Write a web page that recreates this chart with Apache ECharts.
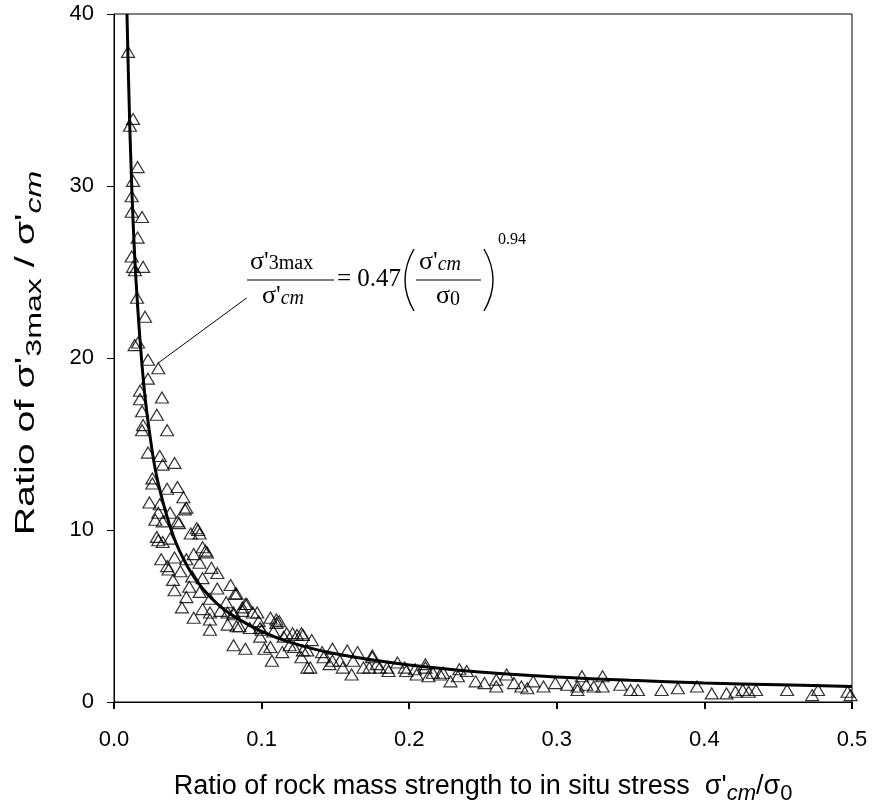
<!DOCTYPE html>
<html>
<head>
<meta charset="utf-8">
<script src="https://cdn.jsdelivr.net/npm/echarts@6/dist/echarts.min.js"></script>
<style>html,body{margin:0;padding:0;background:#fff;}#c{width:873px;height:808px;}</style>
</head>
<body>
<div id="c"></div>
<script>
// ---- data ----
var xTicks = [0, 0.1, 0.2, 0.3, 0.4, 0.5];
var yTicks = [0, 10, 20, 30, 40];

// fitted curve, points
var curvePoints = [
  [0.0088, 40.0], [0.010, 35.7], [0.012, 30.0], [0.015, 24.4], [0.020, 18.6],
  [0.025, 15.1], [0.030, 12.7], [0.040, 9.7], [0.050, 7.85], [0.060, 6.6],
  [0.070, 5.7], [0.080, 5.05], [0.100, 4.1], [0.120, 3.45], [0.150, 2.8],
  [0.200, 2.15], [0.250, 1.73], [0.300, 1.46], [0.350, 1.26], [0.400, 1.11],
  [0.450, 1.0], [0.500, 0.9]
];

// observed data (triangles)
var triPoints = [
  [0.0095,37.8],[0.0108,33.5],[0.0129,33.9],[0.016,31.1],[0.0129,30.3],[0.012,29.4],
  [0.012,28.5],[0.019,28.2],[0.016,27.0],[0.012,25.9],[0.0129,25.3],[0.0197,25.3],
  [0.0142,25.1],[0.0156,23.5],[0.021,22.4],[0.0163,20.9],[0.014,20.75],[0.023,19.9],
  [0.030,19.4],[0.023,18.8],[0.0176,18.1],[0.0325,17.7],[0.0176,17.6],[0.019,16.9],
  [0.029,16.7],[0.0197,16.1],[0.036,15.8],[0.019,15.8],[0.023,14.5],[0.031,14.3],
  [0.041,13.9],[0.033,13.8],[0.026,13.0],[0.043,12.5],[0.036,12.4],[0.047,11.9],
  [0.024,11.6],[0.031,11.5],[0.049,11.3],[0.038,11.0],[0.028,10.6],[0.033,10.5],
  [0.043,10.5],[0.056,10.1],[0.052,9.8],[0.029,9.6],[0.038,9.5],[0.060,9.0],
  [0.026,12.7],[0.048,11.2],[0.030,11.0],[0.044,10.4],[0.057,10.0],[0.058,9.8],
  [0.030,9.4],[0.033,9.3],[0.063,8.7],[0.032,8.3],[0.041,8.4],[0.049,8.3],
  [0.058,8.1],[0.066,7.8],[0.037,7.7],[0.045,7.6],[0.070,7.5],[0.053,7.3],
  [0.060,7.2],[0.040,7.1],[0.079,6.8],[0.051,6.7],[0.070,6.6],[0.041,6.5],
  [0.058,6.4],[0.083,6.3],[0.049,6.1],[0.065,6.0],[0.076,5.8],[0.089,5.7],
  [0.046,5.5],[0.060,5.4],[0.072,5.3],[0.094,5.2],[0.054,4.9],[0.081,5.2],
  [0.106,4.9],[0.065,4.8],[0.110,4.8],[0.062,8.8],[0.054,8.6],[0.036,7.9],
  [0.065,5.2],[0.077,5.2],[0.087,5.3],[0.097,5.2],[0.065,4.2],[0.077,4.5],
  [0.085,4.4],[0.099,4.3],[0.110,4.6],[0.117,4.0],[0.124,3.9],[0.081,3.3],
  [0.089,3.1],[0.099,3.8],[0.106,3.2],[0.107,2.4],[0.119,3.3],[0.128,3.0],
  [0.131,2.0],[0.082,6.3],[0.090,5.7],[0.087,5.5],[0.081,5.1],[0.098,4.7],
  [0.112,4.7],[0.083,4.4],[0.092,4.3],[0.100,4.2],[0.108,4.1],[0.121,4.0],
  [0.127,4.0],[0.115,3.8],[0.134,3.6],[0.102,3.1],[0.114,2.9],[0.122,3.2],
  [0.141,2.9],[0.148,3.1],[0.158,3.0],[0.165,2.9],[0.175,2.7],[0.127,2.6],
  [0.142,2.6],[0.153,2.4],[0.162,2.4],[0.133,2.0],[0.146,2.2],[0.161,1.6],
  [0.169,2.0],[0.178,2.2],[0.185,2.0],[0.192,2.3],[0.197,2.0],[0.204,1.9],
  [0.211,2.2],[0.216,1.7],[0.223,1.7],[0.228,1.2],[0.234,1.9],[0.128,3.9],
  [0.131,3.0],[0.148,2.4],[0.155,2.0],[0.175,2.6],[0.173,2.0],[0.180,2.0],
  [0.186,1.8],[0.198,1.8],[0.205,1.6],[0.211,2.0],[0.213,1.5],[0.221,1.6],
  [0.233,1.5],[0.239,1.8],[0.245,1.2],[0.251,1.1],[0.259,1.3],[0.266,1.6],
  [0.271,1.1],[0.276,0.9],[0.284,1.2],[0.291,0.9],[0.299,1.1],[0.307,1.0],
  [0.314,0.7],[0.259,0.9],[0.280,0.8],[0.314,0.9],[0.317,1.5],[0.320,1.0],
  [0.325,0.9],[0.331,1.5],[0.331,0.9],[0.343,1.0],[0.350,0.7],[0.355,0.7],
  [0.371,0.7],[0.382,0.8],[0.395,0.9],[0.405,0.5],[0.415,0.5],[0.421,0.6],
  [0.426,0.7],[0.430,0.6],[0.435,0.7],[0.456,0.7],[0.473,0.4],[0.477,0.7],
  [0.497,0.6],[0.499,0.4]
];

// leader line of the equation label (data coordinates)
var leaderFrom = [0.090, 23.5];
var leaderTo = [0.0298, 19.7];

var chart = echarts.init(document.getElementById('c'), null, {renderer: 'canvas'});
var sans = 'Liberation Sans, Arial, sans-serif';
var serif = 'Liberation Serif, Times New Roman, serif';

var option = {
  animation: false,
  backgroundColor: '#fff',
  grid: {left: 114, right: 21, top: 14, bottom: 106, containLabel: false, outerBoundsMode: 'none',
    show: true, borderColor: '#000', borderWidth: 1},
  xAxis: {
    type: 'value', min: xTicks[0], max: xTicks[xTicks.length - 1], interval: 0.1,
    axisLine: {show: true, lineStyle: {color: '#000', width: 1}},
    axisTick: {show: true, inside: false, length: 7, lineStyle: {color: '#000', width: 2}},
    splitLine: {show: false},
    axisLabel: {color: '#000', fontFamily: sans, fontSize: 22, margin: 27,
      formatter: function (v) { return v.toFixed(1); }},
    name: "Ratio of rock mass strength to in situ stress  σ'{i|cm}/σ{s|0}",
    nameLocation: 'middle', nameGap: 66,
    nameTextStyle: {color: '#000', fontFamily: sans, fontSize: 27,
      rich: {
        i: {fontFamily: sans, fontSize: 22, fontStyle: 'italic', color: '#000', padding: [15, 0, 0, 0]},
        s: {fontFamily: sans, fontSize: 22, color: '#000', padding: [15, 0, 0, 0]}
      }}
  },
  yAxis: {
    type: 'value', min: yTicks[0], max: yTicks[yTicks.length - 1], interval: 10,
    axisLine: {show: true, lineStyle: {color: '#000', width: 1}},
    axisTick: {show: true, inside: false, length: 7, lineStyle: {color: '#000', width: 1}},
    splitLine: {show: false},
    axisLabel: {color: '#000', fontFamily: sans, fontSize: 22, margin: 20}
  },
  series: [
    {
      type: 'scatter', data: triPoints, symbol: 'triangle', symbolSize: [13, 11],
      itemStyle: {color: 'rgba(255,255,255,0)', borderColor: '#000', borderWidth: 1.2},
      z: 2, silent: true
    },
    {
      type: 'line', data: curvePoints, smooth: 0.4, showSymbol: false, symbol: 'none',
      lineStyle: {color: '#000', width: 3}, z: 3, silent: true,
      markLine: {
        silent: true, symbol: ['none', 'none'],
        lineStyle: {color: '#000', width: 1, type: 'solid'},
        label: {show: false},
        data: [[{coord: leaderFrom}, {coord: leaderTo}]]
      }
    }
  ],
  graphic: [
    // y-axis title (rotated, elongated as in the reference)
    {type: 'text', x: 27, y: 353, rotation: Math.PI / 2, scaleX: 1.46, scaleY: 1,
      style: {text: "Ratio of σ'{s|3max} / σ'{i|cm}", fontFamily: sans, fontSize: 27, fill: '#000',
        align: 'center', verticalAlign: 'middle',
        rich: {
          s: {fontFamily: sans, fontSize: 22, fill: '#000', padding: [15, 0, 0, 0]},
          i: {fontFamily: sans, fontSize: 22, fontStyle: 'italic', fill: '#000', padding: [15, 0, 0, 0]}
        }}},
    // equation label
    {type: 'text', left: 250, top: 249, style: {text: "σ'{s|3max}", fontFamily: serif, fontSize: 26, fill: '#000',
      rich: {s: {fontFamily: serif, fontSize: 20, fill: '#000', padding: [3, 0, 0, 0]}}}},
    {type: 'line', shape: {x1: 247, y1: 280, x2: 334, y2: 280}, style: {stroke: '#000', lineWidth: 1.2}},
    {type: 'text', left: 262, top: 283, style: {text: "σ'{i|cm}", fontFamily: serif, fontSize: 26, fill: '#000',
      rich: {i: {fontFamily: serif, fontSize: 20, fontStyle: 'italic', fill: '#000', padding: [6, 0, 0, 0]}}}},
    {type: 'text', left: 337, top: 267, style: {text: '= 0.47', fontFamily: serif, fontSize: 25, fill: '#000'}},
    {type: 'bezierCurve', shape: {x1: 414, y1: 249, x2: 414, y2: 311, cpx1: 396, cpy1: 280},
      style: {stroke: '#000', lineWidth: 1.4, fill: null}},
    {type: 'text', left: 419, top: 249, style: {text: "σ'{i|cm}", fontFamily: serif, fontSize: 26, fill: '#000',
      rich: {i: {fontFamily: serif, fontSize: 20, fontStyle: 'italic', fill: '#000', padding: [6, 0, 0, 0]}}}},
    {type: 'line', shape: {x1: 416, y1: 280, x2: 481, y2: 280}, style: {stroke: '#000', lineWidth: 1.2}},
    {type: 'text', left: 436, top: 283, style: {text: 'σ{s|0}', fontFamily: serif, fontSize: 26, fill: '#000',
      rich: {s: {fontFamily: serif, fontSize: 20, fill: '#000', padding: [8, 0, 0, 0]}}}},
    {type: 'bezierCurve', shape: {x1: 484, y1: 249, x2: 484, y2: 311, cpx1: 502, cpy1: 280},
      style: {stroke: '#000', lineWidth: 1.4, fill: null}},
    {type: 'text', left: 498, top: 232, style: {text: '0.94', fontFamily: serif, fontSize: 16, fill: '#000'}}
  ]
};
chart.setOption(option);
</script>
</body>
</html>
